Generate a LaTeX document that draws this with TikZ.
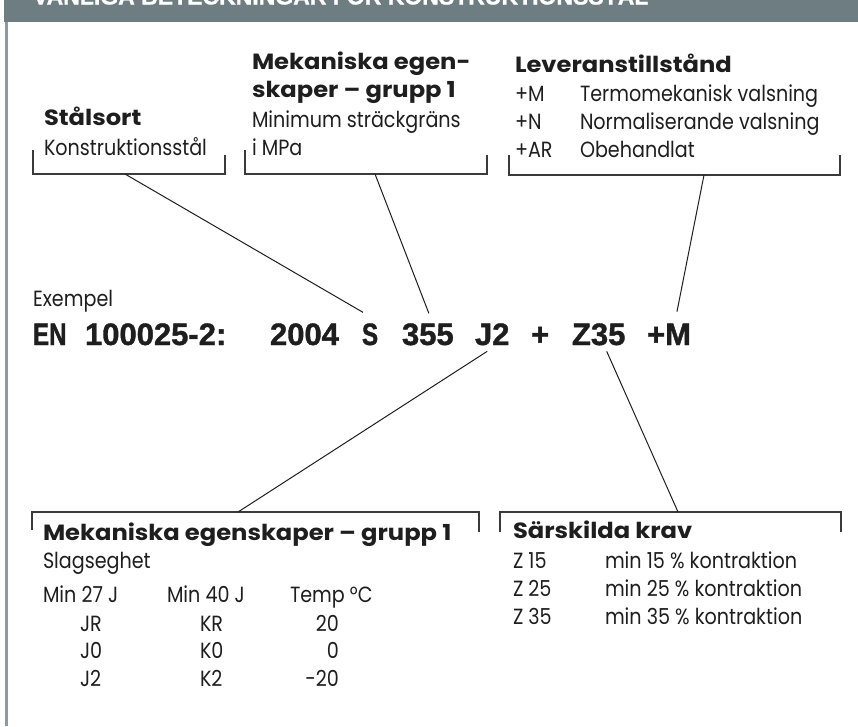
\documentclass[tikz,border=0pt]{standalone}
\usepackage{fontspec}
\setmainfont{Poppins}
\newfontfamily\bodyf{Poppins}[FakeStretch=0.87]
\newfontfamily\headf{Poppins}[FakeStretch=1.1]
\newfontfamily\bigf{Liberation Sans}[FakeBold=1.2]
\newfontfamily\bigcf{Liberation Sans}[FakeStretch=0.78, FakeBold=1.2]
\newfontfamily\titlef{Liberation Sans}[FakeBold=1]
\usetikzlibrary{calc}
\definecolor{ink}{HTML}{1E1E1E}
\definecolor{brk}{HTML}{3A3A3A}
\definecolor{hdr}{HTML}{6E7D81}
\definecolor{side}{HTML}{8D9AA2}
\begin{document}
\begin{tikzpicture}[x=1pt,y=-1pt,
  every node/.style={inner sep=0pt, outer sep=0pt, text=ink},
  body/.style={font=\bodyf\fontsize{22}{26}\selectfont, anchor=base west},
  head/.style={font=\headf\bfseries\fontsize{22}{26}\selectfont, anchor=base west},
  big/.style={font=\bigf\bfseries\fontsize{31}{36}\selectfont, anchor=base west},
  bigc/.style={font=\bigcf\bfseries\fontsize{31}{36}\selectfont, anchor=base west},
  titletext/.style={font=\titlef\bfseries\fontsize{23}{27}\selectfont, anchor=base west, text=white},
  brkline/.style={draw=brk, line width=1.3pt},
  conn/.style={draw=ink, line width=1pt}]
\path[use as bounding box] (0,0) rectangle (858,726);
\clip (0,0) rectangle (858,726);
% header and side border
\fill[hdr] (4,0) rectangle (858,22);
\node[titletext] (title) at (33,4.5) {VANLIGA BETECKNINGAR FÖR KONSTRUKTIONSSTÅL};
\fill[side] (5,22) rectangle (8,726);

% top-left block
\node[head] (stal) at (44,125) {Stålsort};
\node[body] (konst) at (44,155) {Konstruktionsstål};
\draw[brkline] (33,150) -- (33,174) -- (225,174) -- (225,155);
\coordinate (stalA) at (125,174);

% top-middle block
\node[head] (mek1) at (252,69) {Mekaniska egen-};
\node[head] (mek2) at (252,97) {skaper – grupp 1};
\node[body] (mini) at (252,127) {Minimum sträckgräns};
\node[body] (mpa) at (252,155) {i MPa};
\draw[brkline] (245,150) -- (245,174) -- (487,174) -- (487,155);
\coordinate (mpaA) at (375,174);

% top-right block
\node[head] (lev) at (515,72) {Leveranstillstånd};
\node[body] (pm) at (515,101) {+M};
\node[body] (pn) at (515,129) {+N};
\node[body] (par) at (515,157) {+AR};
\node[body] (termo) at (580,101) {Termomekanisk valsning};
\node[body] (norm) at (580,129) {Normaliserande valsning};
\node[body] (obeh) at (580,157) {Obehandlat};
\draw[brkline] (509,155) -- (509,175) -- (840,175) -- (840,155);
\coordinate (levA) at (704,175);

% example line
\node[body] (ex) at (33,306) {Exempel};
\node[bigc] (EN) at (33,345) {EN};
\node[big] (num) at (85,345) {100025-2:};
\node[big] (yr) at (270,345) {2004};
\node[bigc] (S) at (362,345) {S};
\node[big] (n355) at (402,345) {355};
\node[big] (J2) at (475,345) {J2};
\node[big] (plus) at (531,345) {+};
\node[big] (Z35) at (572,345) {Z35};
\node[big] (M) at (647,345) {+M};

% connectors top
\draw[conn] (stalA) -- ($(S.north west)+(1,-11)$);
\draw[conn] (mpaA) -- ($(n355.north)+(1,-10)$);
\draw[conn] (levA) -- ($(M.north)+(8,-12)$);

% bottom-left block
\draw[brkline] (32,530) -- (32,512) -- (479,512) -- (479,532);
\coordinate (mekA) at (238,512);
\node[head] (mekb) at (43,540) {Mekaniska egenskaper – grupp 1};
\node[body] (slag) at (43,568) {Slagseghet};
\node[body] (c1) at (43,602) {Min 27 J};
\node[body] (c2) at (167,602) {Min 40 J};
\node[body] (c3) at (290,602) {Temp °C};
\node[body] (jr) at (80,631) {JR};
\node[body] (j0) at (80,658) {J0};
\node[body] (j2) at (80,686) {J2};
\node[body] (kr) at (200,631) {KR};
\node[body] (k0) at (200,658) {K0};
\node[body] (k2) at (200,686) {K2};
\node[body, anchor=base east] (t1) at (339,631) {20};
\node[body, anchor=base east] (t2) at (339,658) {0};
\node[body, anchor=base east] (t3) at (339,686) {-20};

% bottom-right block
\draw[brkline] (500,532) -- (500,512) -- (841,512) -- (841,532);
\coordinate (sarA) at (678,512);
\node[head] (sar) at (513,538) {Särskilda krav};
\node[body] (z15) at (513,568) {Z 15};
\node[body] (z25) at (513,596) {Z 25};
\node[body] (z35) at (513,624) {Z 35};
\node[body] (m15) at (605,568) {min 15 \% kontraktion};
\node[body] (m25) at (605,596) {min 25 \% kontraktion};
\node[body] (m35) at (605,624) {min 35 \% kontraktion};

% connectors bottom
\draw[conn] ($(J2.south)+(-5,6)$) -- (mekA);
\draw[conn] ($(Z35.south)+(8,6)$) -- (sarA);
\end{tikzpicture}
\end{document}
